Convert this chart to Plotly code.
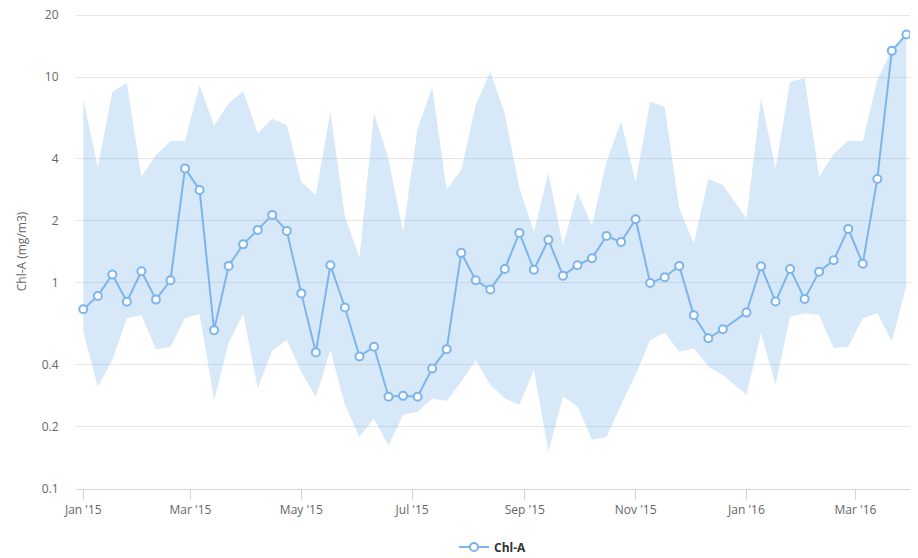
import plotly.graph_objects as go
import pandas as pd

# 8-day composite dates
dates_2015 = list(pd.date_range("2015-01-01", periods=45, freq="8D").strftime("%Y-%m-%d"))
dates_2016 = list(pd.date_range("2016-01-01", periods=12, freq="8D").strftime("%Y-%m-%d"))
dates = dates_2015 + dates_2016

chl_a = [
    0.745, 0.865, 1.10, 0.81, 1.14, 0.83, 1.03, 3.6, 2.83, 0.59,
    1.21, 1.54, 1.81, 2.14, 1.79, 0.89, 0.46, 1.22, 0.76, 0.44,
    0.49, 0.28, 0.283, 0.28, 0.384, 0.477, 1.40, 1.03, 0.93, 1.17,
    1.75, 1.16, 1.62, 1.085, 1.22, 1.32, 1.69, 1.58, 2.04, 1.0,
    1.066, 1.21, 0.697, 0.539, 0.596,
    0.718, 1.205, 0.812, 1.17, 0.836, 1.135, 1.29, 1.83, 1.24, 3.2,
    13.4, 16.1,
]

range_high = [
    7.8, 3.65, 8.49, 9.38, 3.28, 4.18, 4.89, 4.89, 9.14, 5.78,
    7.45, 8.55, 5.33, 6.28, 5.85, 3.1, 2.67, 6.79, 2.1, 1.33,
    6.66, 4.0, 1.78, 5.63, 8.91, 2.84, 3.54, 7.31, 10.6, 6.66,
    2.9, 1.77, 3.43, 1.52, 2.75, 1.9, 3.9, 6.07, 3.1, 7.59,
    7.17, 2.3, 1.56, 3.2, 2.99,
    2.06, 7.88, 3.6, 9.49, 9.86, 3.28, 4.23, 4.89, 4.89, 9.67,
    13.6, 16.3,
]

range_low = [
    0.58, 0.314, 0.423, 0.674, 0.699, 0.477, 0.487, 0.674, 0.707, 0.27,
    0.51, 0.707, 0.308, 0.468, 0.529, 0.37, 0.279, 0.473, 0.256, 0.179,
    0.22, 0.162, 0.229, 0.237, 0.275, 0.267, 0.332, 0.42, 0.32, 0.275,
    0.256, 0.378, 0.152, 0.281, 0.251, 0.173, 0.179, 0.256, 0.358, 0.529,
    0.574, 0.464, 0.482, 0.392, 0.357,
    0.286, 0.57, 0.32, 0.686, 0.713, 0.699, 0.482, 0.49, 0.674, 0.713,
    0.52, 0.97,
]

y_ticks = [0.1, 0.2, 0.4, 1, 2, 4, 10, 20]
y_tick_labels = ["0.1", "0.2", "0.4", "1", "2", "4", "10", "20"]

BLUE = "#7cb5ec"
FONT = "Open Sans, Liberation Sans, sans-serif"

fig = go.Figure()
fig.add_trace(go.Scatter(
    x=dates, y=range_high, mode="lines", line=dict(width=0, color=BLUE),
    showlegend=False, hoverinfo="skip",
))
fig.add_trace(go.Scatter(
    x=dates, y=range_low, mode="lines", line=dict(width=0, color=BLUE),
    fill="tonexty", fillcolor="rgba(124,181,236,0.3)",
    showlegend=False, hoverinfo="skip",
))
fig.add_trace(go.Scatter(
    x=dates, y=chl_a, mode="lines+markers", name="Chl-A",
    line=dict(color=BLUE, width=2),
    marker=dict(size=8, color="white", line=dict(color=BLUE, width=2)),
))

fig.update_layout(
    width=918, height=558,
    margin=dict(l=76, r=8, t=14, b=69, autoexpand=False),
    paper_bgcolor="white", plot_bgcolor="white",
    font=dict(family=FONT, size=12, color="#666666"),
    legend=dict(
        orientation="h", x=0.5, xanchor="center", y=-0.122, yanchor="middle",
        font=dict(family=FONT, size=12, color="#333333", weight="bold"),
    ),
    xaxis=dict(
        type="date", automargin=False,
        range=["2014-12-28", "2016-03-31"],
        tick0="2015-01-01", dtick="M2", tickformat="%b '%y",
        showgrid=False, zeroline=False,
        showline=True, linecolor="#ccd6eb", linewidth=1,
        ticks="outside", ticklen=10, tickcolor="#ccd6eb", tickwidth=1,
        tickfont=dict(size=12, color="#666666"),
    ),
    yaxis=dict(
        type="log", automargin=False,
        range=[-1.0005, 1.306],
        tickvals=y_ticks, ticktext=y_tick_labels,
        showgrid=True, gridcolor="#e6e6e6", gridwidth=1,
        zeroline=False, showline=False,
        ticks="outside", ticklen=14, tickcolor="rgba(0,0,0,0)",
        ticklabeloverflow="allow",
        tickfont=dict(size=12, color="#666666"),
    ),
    annotations=[dict(
        text="Chl-A (mg/m3)", textangle=-90,
        xref="paper", yref="paper", x=-0.065, y=0.5,
        xanchor="center", yanchor="middle", showarrow=False,
        font=dict(family=FONT, size=12, color="#666666"),
    )],
)

# remove the browser's default 8px body margin so the figure fills the window
fig.write_html(
    "out.html",
    config={"displayModeBar": False},
    post_script="document.body.style.margin='0';",
)
